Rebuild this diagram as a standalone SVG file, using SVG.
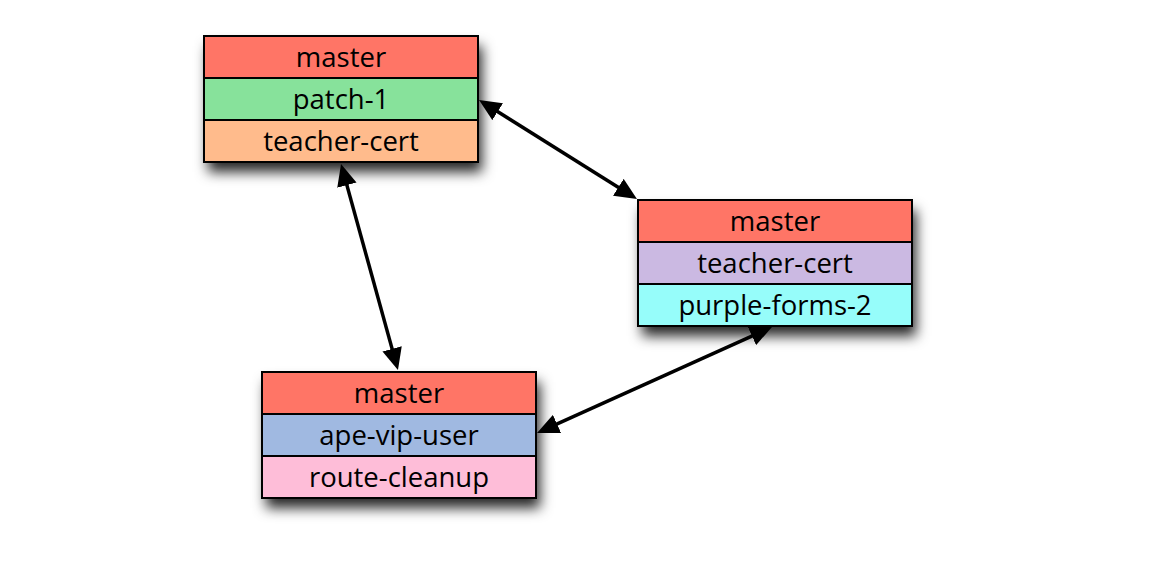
<svg xmlns="http://www.w3.org/2000/svg" width="1152" height="576" viewBox="0 0 1152 576">
<defs>
<style>
.row{stroke:#000;stroke-width:2}
.lbl{font-family:"Open Sans","Noto Sans","DejaVu Sans",sans-serif;font-size:27.5px;fill:#000;text-anchor:middle}
.edge{stroke:#000;stroke-width:3.5;fill:none;marker-start:url(#ah);marker-end:url(#ah)}
.red{fill:#FF7566}
</style>
<filter id="sh" x="-20%" y="-20%" width="150%" height="170%">
<feDropShadow dx="4" dy="10" stdDeviation="6.5" flood-color="#000" flood-opacity="0.85"/>
</filter>
<marker id="ah" viewBox="0 0 22 20" markerWidth="22" markerHeight="20" refX="12" refY="10" orient="auto-start-reverse" markerUnits="userSpaceOnUse">
<path d="M0,0 L22,10 L0,20 z" fill="#000"/>
</marker>
</defs>
<rect width="1152" height="576" fill="#fff"/>
<g id="connectors">
<line class="edge" x1="487.5" y1="105.3" x2="628.5" y2="193.7"/>
<line class="edge" x1="343.7" y1="173.6" x2="395.3" y2="360.4"/>
<line class="edge" x1="762.9" y1="331.1" x2="546.1" y2="428.9"/>
</g>
<g id="node1">
<rect x="204" y="36" width="274" height="126" fill="#fff" filter="url(#sh)"/>
<rect class="row red" x="204" y="36" width="274" height="42"/>
<rect class="row" x="204" y="78" width="274" height="42" fill="#87E29B"/>
<rect class="row" x="204" y="120" width="274" height="42" fill="#FFBB8C"/>
<text class="lbl" x="341" y="67">master</text>
<text class="lbl" x="341" y="109">patch-1</text>
<text class="lbl" x="341" y="151">teacher-cert</text>
</g>
<g id="node2">
<rect x="638" y="200" width="274" height="126" fill="#fff" filter="url(#sh)"/>
<rect class="row red" x="638" y="200" width="274" height="42"/>
<rect class="row" x="638" y="242" width="274" height="42" fill="#CBB9E2"/>
<rect class="row" x="638" y="284" width="274" height="42" fill="#96FDFA"/>
<text class="lbl" x="775" y="231">master</text>
<text class="lbl" x="775" y="273">teacher-cert</text>
<text class="lbl" x="775" y="315">purple-forms-2</text>
</g>
<g id="node3">
<rect x="262" y="372" width="274" height="126" fill="#fff" filter="url(#sh)"/>
<rect class="row red" x="262" y="372" width="274" height="42"/>
<rect class="row" x="262" y="414" width="274" height="42" fill="#A0B9E1"/>
<rect class="row" x="262" y="456" width="274" height="42" fill="#FEBDD8"/>
<text class="lbl" x="399" y="403">master</text>
<text class="lbl" x="399" y="445">ape-vip-user</text>
<text class="lbl" x="399" y="487">route-cleanup</text>
</g>
</svg>
